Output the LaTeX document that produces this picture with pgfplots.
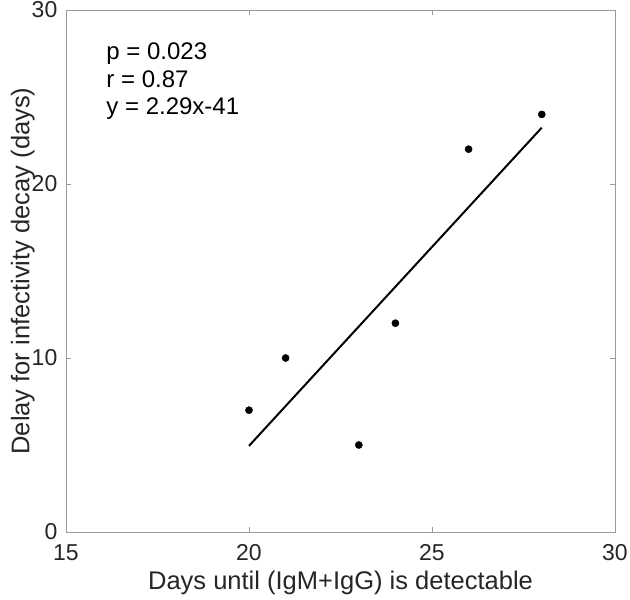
\documentclass[border=0pt]{standalone}
\usepackage{pgfplots}
\pgfplotsset{compat=1.18}
\usepackage{fontspec}
\setmainfont{Liberation Sans}
\definecolor{axgray}{RGB}{155,155,155}
\definecolor{txt}{RGB}{38,38,38}
\begin{document}
\begin{tikzpicture}
\begin{axis}[
  scale only axis,
  width=549pt, height=522pt,
  xmin=15, xmax=30, ymin=0, ymax=30,
  xtick={15,20,25,30}, ytick={0,10,20,30},
  tick align=inside,
  major tick length=5pt,
  axis line style={axgray, line width=0.8pt},
  tick style={axgray, line width=0.8pt},
  ticklabel style={font=\fontsize{23}{27}\selectfont, text=txt, inner sep=0pt},
  xticklabel style={yshift=-12pt},
  yticklabel style={xshift=-8.5pt},
  /pgf/number format/assume math mode=true,
  xlabel={Days until (IgM+IgG) is detectable},
  ylabel={Delay for infectivity decay (days)},
  xlabel style={font=\fontsize{25.5}{30}\selectfont, text=txt, inner sep=0pt,
    at={(axis description cs:0.5,-0.1098)}, anchor=base},
  ylabel style={font=\fontsize{25.5}{30}\selectfont, text=txt, inner sep=0pt,
    at={(axis description cs:-0.0668,0.5)}, anchor=base, rotate=0},
  clip=false,
]
\addplot[only marks, mark=*, mark size=3.6pt, black] coordinates {
  (20,7) (21,10) (23,5) (24,12) (26,22) (28,24)
};
\addplot[black, line width=2pt] coordinates {(20,4.95) (28,23.24)};
\node[anchor=base west, font=\fontsize{24}{28}\selectfont, inner sep=0pt] at (axis cs:16.1,27.13) {p = 0.023};
\node[anchor=base west, font=\fontsize{24}{28}\selectfont, inner sep=0pt] at (axis cs:16.1,25.55) {r = 0.87};
\node[anchor=base west, font=\fontsize{24}{28}\selectfont, inner sep=0pt] at (axis cs:16.1,23.97) {y = 2.29x-41};
\end{axis}
\pgfresetboundingbox
\path[use as bounding box] (current axis.south west) ++(-66pt,-68pt) rectangle ++(630pt,600pt);
\end{tikzpicture}
\end{document}
